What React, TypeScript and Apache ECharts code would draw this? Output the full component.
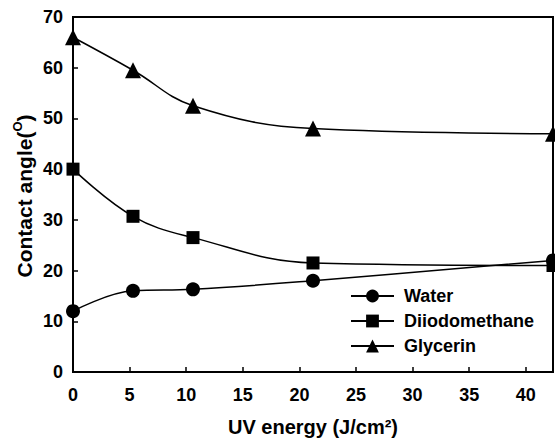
import React, { useEffect, useRef } from "react";
import * as echarts from "echarts";

const xValues = [0, 5.3, 10.6, 21.2, 42.4];
const water = [12, 16, 16.3, 18, 22];
const diiodomethane = [40, 30.7, 26.5, 21.5, 21];
const glycerin = [66, 59.5, 52.5, 48, 47];
const xTicks = [0, 5, 10, 15, 20, 25, 30, 35, 40];
const yTicks = [0, 10, 20, 30, 40, 50, 60, 70];

const FONT = "Liberation Sans";

export default function App() {
  const ref = useRef<HTMLDivElement>(null);
  useEffect(() => {
    const chart = echarts.init(ref.current!, null, { renderer: "svg" });
    const mk = (name: string, vals: number[], symbol: string, size: number) => ({
      name,
      type: "line",
      data: xValues.map((x, i) => [x, vals[i]]),
      smooth: 0.4,
      symbol,
      symbolSize: size,
      showAllSymbol: true,
      lineStyle: { color: "#000", width: 1.5 },
      itemStyle: { color: "#000" },
      clip: false,
    });
    const tSize = 21;
    const supSize = 13;
    // approximate advance widths (Liberation Sans Bold em units) for centering
    const wMain = tSize * 6.947;
    const wSup = supSize * 0.778;
    const wClose = tSize * 0.333;
    const total = wMain + wSup + wClose;
    const A = -total / 2 + wMain;
    const tStyle = { fontFamily: FONT, fontWeight: "bold", fill: "#000" };
    chart.setOption({
      animation: false,
      backgroundColor: "#fff",
      textStyle: { fontFamily: FONT },
      grid: {
        left: 73,
        top: 17,
        right: 2,
        bottom: 71,
        show: true,
        borderColor: "#000",
        borderWidth: 2,
      },
      graphic: [
        {
          type: "group",
          x: 24,
          y: 196,
          rotation: Math.PI / 2,
          children: [
            { type: "text", x: A, y: 0, style: { ...tStyle, text: "Contact angle(", fontSize: tSize, verticalAlign: "middle", align: "right" } },
            { type: "text", x: A, y: -7, style: { ...tStyle, text: "O", fontSize: supSize, verticalAlign: "middle", align: "left" } },
            { type: "text", x: A + wSup, y: 0, style: { ...tStyle, text: ")", fontSize: tSize, verticalAlign: "middle", align: "left" } },
          ],
        },
      ],
      legend: {
        orient: "vertical",
        left: 350,
        top: 287,
        padding: 0,
        itemGap: 7,
        itemWidth: 43,
        itemHeight: 16,
        textStyle: { fontFamily: FONT, fontWeight: "bold", fontSize: 18, color: "#000", padding: [0, 0, 0, 5] },
        data: ["Water", "Diiodomethane", "Glycerin"],
      },
      xAxis: {
        type: "value",
        min: 0,
        max: 42.4,
        interval: 5,
        name: "UV energy (J/cm²)",
        nameLocation: "middle",
        nameGap: 45,
        nameTextStyle: { fontFamily: FONT, fontWeight: "bold", fontSize: 20, color: "#000" },
        axisLine: { lineStyle: { color: "#000", width: 2 } },
        axisTick: { inside: true, length: 5, lineStyle: { color: "#000", width: 1.5 } },
        axisLabel: {
          fontFamily: FONT,
          fontWeight: "bold",
          fontSize: 18,
          color: "#000",
          margin: 14,
          formatter: (v: number) => (xTicks.includes(v) ? String(v) : ""),
          showMaxLabel: false,
        },
        splitLine: { show: false },
      },
      yAxis: {
        type: "value",
        min: 0,
        max: 70,
        interval: 10,
        axisLine: { lineStyle: { color: "#000", width: 2 } },
        axisTick: { inside: true, length: 5, lineStyle: { color: "#000", width: 1.5 } },
        axisLabel: {
          fontFamily: FONT,
          fontWeight: "bold",
          fontSize: 18,
          color: "#000",
          margin: 10,
          formatter: (v: number) => (yTicks.includes(v) ? String(v) : ""),
        },
        splitLine: { show: false },
      },
      series: [
        mk("Water", water, "circle", 14),
        mk("Diiodomethane", diiodomethane, "rect", 13),
        mk("Glycerin", glycerin, "triangle", 16),
      ],
    });
    return () => chart.dispose();
  }, []);
  return <div ref={ref} style={{ width: 555, height: 443, position: "absolute", left: 0, top: 0 }} />;
}
